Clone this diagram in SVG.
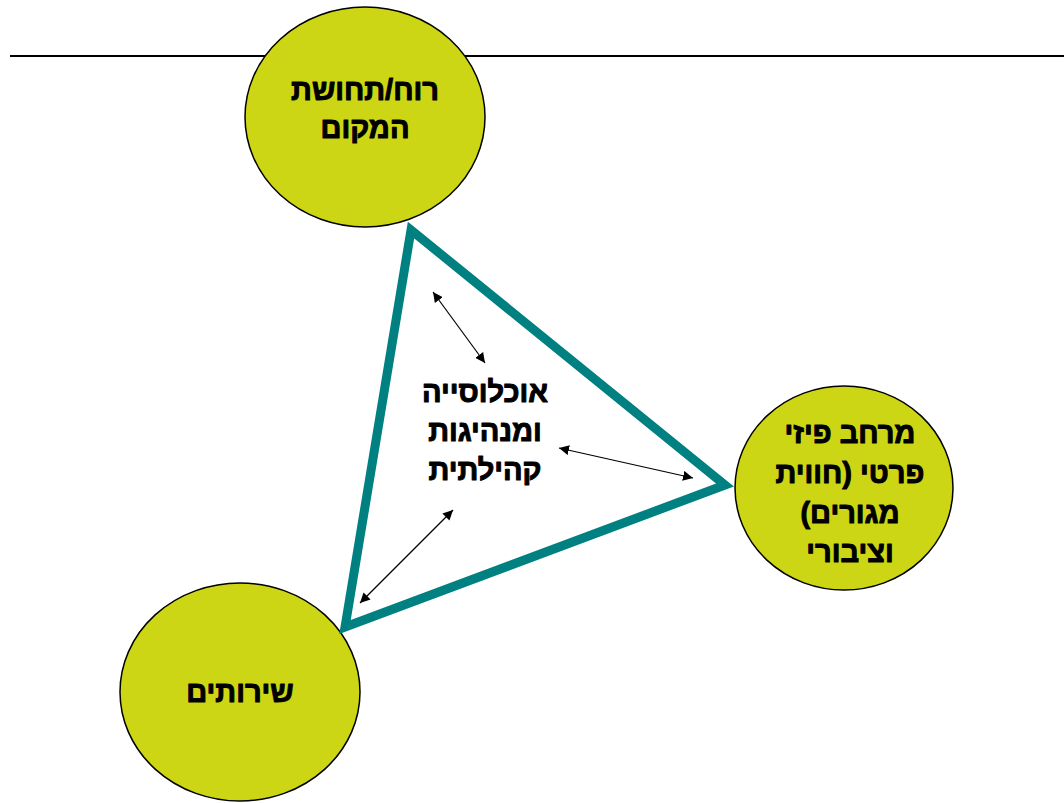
<svg xmlns="http://www.w3.org/2000/svg" width="1064" height="803" viewBox="0 0 1064 803">
<defs>
<marker id="ah" viewBox="0 0 10 10" refX="10" refY="5" markerWidth="10" markerHeight="10" markerUnits="userSpaceOnUse" orient="auto-start-reverse">
<path d="M0,0 L10,5 L0,10 z" fill="#000"/>
</marker>
<style>
.node{fill:#CCD614;stroke:#000;stroke-width:1.5}
.lbl{font-family:"Liberation Sans","DejaVu Sans",Arial,sans-serif;font-weight:bold;font-size:29px;fill:#000;stroke:#000;stroke-width:1;stroke-linejoin:round;text-anchor:middle}
.arr{stroke:#000;stroke-width:1.2;fill:none;marker-start:url(#ah);marker-end:url(#ah)}
</style>
</defs>
<rect width="1064" height="803" fill="#fff"/>
<line x1="10" y1="56" x2="1064" y2="56" stroke="#000" stroke-width="2"/>
<g id="node-top">
<ellipse class="node" cx="365" cy="117" rx="120" ry="110"/>
<text class="lbl" direction="rtl" x="365" y="100">רוח/תחושת</text>
<text class="lbl" direction="rtl" x="365" y="138">המקום</text>
</g>
<g id="node-right">
<ellipse class="node" cx="844" cy="488" rx="109" ry="102"/>
<text class="lbl" direction="rtl" x="850" y="443">מרחב פיזי</text>
<text class="lbl" direction="rtl" x="850" y="483">פרטי (חווית</text>
<text class="lbl" direction="rtl" x="850" y="523">מגורים)</text>
<text class="lbl" direction="rtl" x="850" y="562">וציבורי</text>
</g>
<g id="node-bottom">
<ellipse class="node" cx="240" cy="692" rx="120" ry="109"/>
<text class="lbl" direction="rtl" x="240" y="702">שירותים</text>
</g>
<g id="triangle">
<polygon points="411,230 725,485 345,627" fill="#fff" stroke="#008080" stroke-width="9" stroke-linejoin="miter"/>
</g>
<g id="node-center">
<text class="lbl" direction="rtl" x="485" y="402">אוכלוסייה</text>
<text class="lbl" direction="rtl" x="485" y="441">ומנהיגות</text>
<text class="lbl" direction="rtl" x="485" y="480">קהילתית</text>
</g>
<g id="connectors">
<line class="arr" x1="433" y1="292" x2="485" y2="363"/>
<line class="arr" x1="559" y1="448" x2="693" y2="478"/>
<line class="arr" x1="453" y1="510" x2="360" y2="603"/>
</g>
</svg>
